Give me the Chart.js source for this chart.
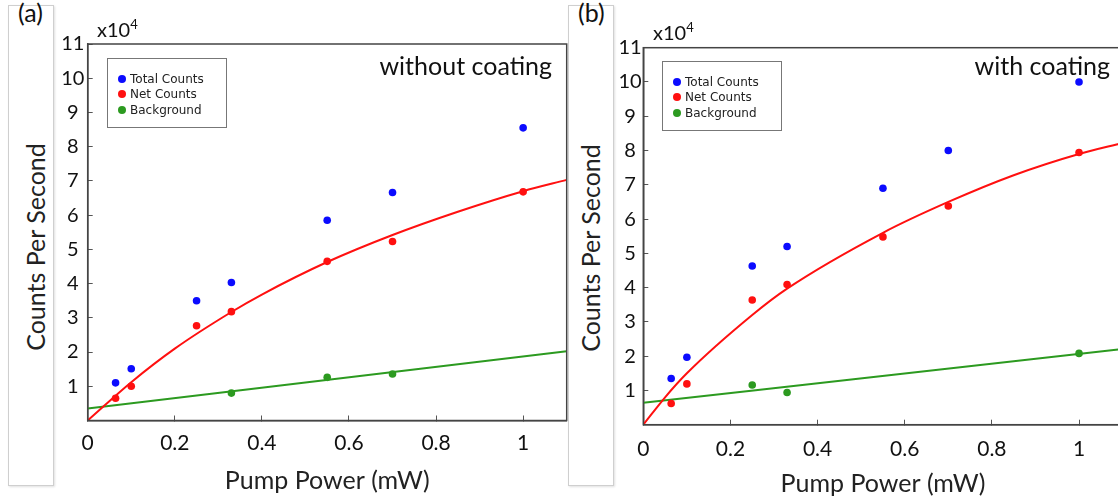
<!DOCTYPE html>
<html>
<head>
<meta charset="utf-8">
<script src="https://cdn.jsdelivr.net/npm/chart.js@4.4.1/dist/chart.umd.min.js"></script>
<style>
  body { margin: 0; width: 1118px; height: 500px; overflow: hidden; background: #fff; position: relative; font-family: Lato, sans-serif; color: #111; }
  .side { position: absolute; top: 5px; width: 44px; height: 479px; border: 1px solid #cfcfcf; box-shadow: 1px 1px 2px rgba(0,0,0,0.12); background: #fff; }
  .tag { position: absolute; top: -3px; font-size: 25px; line-height: 30px; }
  .ytitle { position: absolute; width: 300px; height: 30px; line-height: 30px; font-size: 25px; text-align: center; transform: rotate(-90deg); color: #222; white-space: nowrap; }
  .chart { position: absolute; top: 0; width: 580px; height: 500px; }
  .mult { position: absolute; font-size: 20px; line-height: 24px; }
  .mult sup { font-size: 13px; }
  .note { position: absolute; font-size: 25px; line-height: 30px; white-space: nowrap; }
  .legend { position: absolute; width: 118px; height: 68px; border: 1px solid #777; background: #fff; font-family: "DejaVu Sans", sans-serif; font-size: 12px; color: #222; }
  .legend div { position: absolute; left: 10px; height: 14px; line-height: 14px; white-space: nowrap; }
  .legend span { display: inline-block; width: 8px; height: 8px; border-radius: 50%; margin-right: 4px; vertical-align: 0; }
</style>
</head>
<body>
<div class="side" style="left:8px"></div>
<div class="tag" style="left:18px">(a)</div>
<div class="ytitle" style="left:-115px;top:232px">Counts Per Second</div>

<div class="side" style="left:568px"></div>
<div class="tag" style="left:578px">(b)</div>
<div class="ytitle" style="left:440px;top:233px">Counts Per Second</div>

<div class="chart" style="left:0"><canvas id="chartA"></canvas></div>
<div class="chart" style="left:560px"><canvas id="chartB"></canvas></div>

<div class="mult" style="left:97px;top:12px">x10<sup>4</sup></div>
<div class="mult" style="left:653px;top:15px">x10<sup>4</sup></div>
<div class="note" style="right:566px;top:50px">without coating</div>
<div class="note" style="right:8px;top:50px">with coating</div>
<div class="legend" id="legendA" style="left:107px;top:58px"></div>
<div class="legend" id="legendB" style="left:662px;top:61px"></div>

<script>
Chart.defaults.font.family = 'Lato, sans-serif'
Chart.defaults.color = '#111'

const xTicks = [0, 0.2, 0.4, 0.6, 0.8, 1]
const yTicks = [0, 1, 2, 3, 4, 5, 6, 7, 8, 9, 10, 11]
const seriesNames = ['Total Counts', 'Net Counts', 'Background']
const seriesColors = ['#0b0bff', '#ff1010', '#2c9a20']

// (a) without coating
const powerA = [0.064, 0.1, 0.25, 0.33, 0.55, 0.7, 1.0]
const totalA = [1.1, 1.51, 3.5, 4.03, 5.85, 6.66, 8.55]
const netA = [0.65, 1.0, 2.77, 3.18, 4.65, 5.23, 6.68]
const bgPowerA = [0.33, 0.55, 0.7]
const bgA = [0.8, 1.26, 1.36]
const fitPowerA = [0, 0.1, 0.2, 0.33, 0.4, 0.55, 0.7, 0.85, 1.0, 1.1]
const netFitA = [0, 1.12, 2.1, 3.17, 3.68, 4.63, 5.42, 6.1, 6.7, 7.03]
const bgFitPowerA = [0, 1.1]
const bgFitA = [0.35, 2.02]

// (b) with coating
const powerB = [0.064, 0.1, 0.25, 0.33, 0.55, 0.7, 1.0]
const totalB = [1.35, 1.97, 4.63, 5.2, 6.9, 8.0, 10.0]
const netB = [0.62, 1.19, 3.64, 4.09, 5.48, 6.38, 7.94]
const bgPowerB = [0.25, 0.33, 1.0]
const bgB = [1.16, 0.94, 2.08]
const fitPowerB = [0, 0.05, 0.1, 0.25, 0.33, 0.55, 0.7, 0.85, 1.0, 1.1]
const netFitB = [0, 0.8, 1.5, 3.2, 3.97, 5.6, 6.5, 7.28, 7.9, 8.22]
const bgFitPowerB = [0, 1.1]
const bgFitB = [0.64, 2.21]

const pts = (xs, ys) => xs.map((x, i) => ({x: x, y: ys[i]}))

const frame = { // рамка вокруг области графика
  id: 'frame',
  afterDatasetsDraw(chart) {
    const {ctx, chartArea: a} = chart
    ctx.save()
    ctx.strokeStyle = '#444'
    ctx.lineWidth = 1.5
    ctx.strokeRect(a.left, a.top, a.right - a.left, a.bottom - a.top)
    ctx.restore()
  }
}

function buildChart(id, g, d) {
  const dot = (i, data) => ({
    label: seriesNames[i], data: data, backgroundColor: seriesColors[i],
    pointRadius: 3.8, pointBorderWidth: 0, showLine: false
  })
  const fit = (color, data) => ({
    label: 'fit', data: data, borderColor: color, borderWidth: 2, pointRadius: 0,
    showLine: true, fill: false, cubicInterpolationMode: 'monotone'
  })
  return new Chart(document.getElementById(id), {
    type: 'scatter',
    data: {
      datasets: [
        dot(0, pts(d.power, d.total)),
        dot(1, pts(d.power, d.net)),
        dot(2, pts(d.bgPower, d.bg)),
        fit(seriesColors[1], pts(d.fitPower, d.netFit)),
        fit(seriesColors[2], pts(d.bgFitPower, d.bgFit))
      ]
    },
    options: {
      responsive: true,
      maintainAspectRatio: false,
      animation: false,
      events: [],
      layout: { autoPadding: false, padding: { top: g.top, right: g.right, left: 0, bottom: 0 } },
      plugins: { legend: { display: false }, tooltip: { enabled: false } },
      scales: {
        x: {
          type: 'linear', min: 0, max: 1.1,
          afterBuildTicks: s => { s.ticks = xTicks.map(v => ({value: v})) },
          afterFit: s => { s.height = g.xHeight },
          border: { color: '#444', width: 1.5 },
          grid: { drawOnChartArea: false, tickLength: -5, color: '#555' },
          ticks: { font: { size: 21 }, color: '#111', padding: g.xPad, maxRotation: 0, callback: v => String(v) },
          title: { display: true, text: 'Pump Power (mW)', font: { size: 25 }, color: '#222', padding: { top: 0, bottom: g.titlePad } }
        },
        y: {
          type: 'linear', min: 0, max: 11,
          afterBuildTicks: s => { s.ticks = yTicks.map(v => ({value: v})) },
          afterFit: s => { s.width = g.yWidth },
          border: { color: '#444', width: 1.5 },
          grid: { drawOnChartArea: false, tickLength: -5, color: '#555' },
          ticks: { font: { size: 20 }, color: '#111', padding: g.yPad, crossAlign: 'center', callback: v => v === 0 ? '' : String(v) }
        }
      }
    },
    plugins: [frame]
  })
}

function buildLegend(id) {
  const box = document.getElementById(id)
  seriesNames.forEach((name, i) => {
    const row = document.createElement('div')
    row.style.top = (13 + i * 15.3) + 'px'
    row.innerHTML = '<span style="background:' + seriesColors[i] + '"></span>' + name
    box.appendChild(row)
  })
}

try {
  buildChart('chartA',
    { top: 44, right: 13.3, yWidth: 87.7, xHeight: 79.5, xPad: 15, yPad: 8.3, titlePad: 4 },
    { power: powerA, total: totalA, net: netA, bgPower: bgPowerA, bg: bgA,
      fitPower: fitPowerA, netFit: netFitA, bgFitPower: bgFitPowerA, bgFit: bgFitA })
  buildChart('chartB',
    { top: 47.7, right: 17.4, yWidth: 83.3, xHeight: 75.3, xPad: 16.8, yPad: 6.7, titlePad: 1.5 },
    { power: powerB, total: totalB, net: netB, bgPower: bgPowerB, bg: bgB,
      fitPower: fitPowerB, netFit: netFitB, bgFitPower: bgFitPowerB, bgFit: bgFitB })
  buildLegend('legendA')
  buildLegend('legendB')
} catch (error) {
  console.error('chart render failed: ' + error)
}
</script>
</body>
</html>
